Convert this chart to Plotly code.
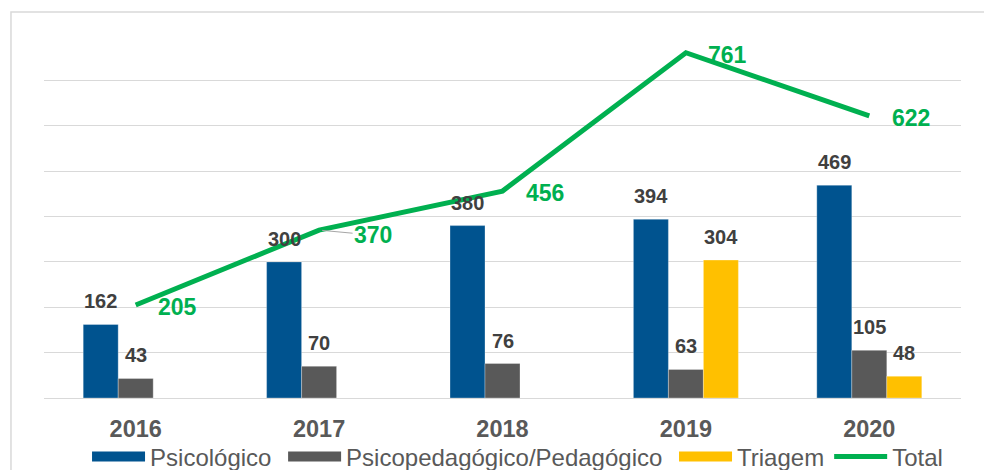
import plotly.graph_objects as go

years = ["2016", "2017", "2018", "2019", "2020"]
psicologico = [162, 300, 380, 394, 469]
psicopedagogico = [43, 70, 76, 63, 105]
triagem = [0, 0, 0, 304, 48]
total = [205, 370, 456, 761, 622]

series_names = ["Psicológico", "Psicopedagógico/Pedagógico", "Triagem"]
series_values = [psicologico, psicopedagogico, triagem]
series_colors = ["#00538F", "#595959", "#FFC000"]
legend_pad = [1, 1, 0]
total_color = "#00B050"

FONT = "Liberation Sans, Arial, sans-serif"
BARGAP = 0.4275
bar_w = (1 - BARGAP) / len(series_values)
NB = "\u00a0"

fig = go.Figure()
for name, vals, col in zip(series_names, series_values, series_colors):
    fig.add_trace(go.Bar(x=years, y=vals, name=name,
                         marker=dict(color=col, line=dict(width=0.5, color="rgba(255,255,255,0.6)")),
                         showlegend=False, hoverinfo="skip"))
fig.add_trace(go.Scatter(x=years, y=total, name="Total", mode="lines",
                         line=dict(color=total_color, width=5), showlegend=False, hoverinfo="skip"))

# legend entries (wide swatches)
for name, col, pad in zip(series_names, series_colors, legend_pad):
    fig.add_trace(go.Scatter(x=[None], y=[None], mode="lines", name=name + NB * pad,
                             line=dict(color=col, width=12)))
fig.add_trace(go.Scatter(x=[None], y=[None], mode="lines", name="Total",
                         line=dict(color=total_color, width=5)))

annotations = []
n = len(series_values)
for k, vals in enumerate(series_values):
    off = (k - (n - 1) / 2) * bar_w
    for i, v in enumerate(vals):
        if v == 0:
            continue
        annotations.append(dict(x=i + off, y=v, xref="x", yref="y", text=f"<b>{v}</b>",
                                showarrow=False, yanchor="bottom", yshift=10,
                                font=dict(family=FONT, size=20, color="#404040")))
for i, v in enumerate(total):
    a = dict(x=i, y=v, xref="x", yref="y", text=f"<b>{v}</b>",
             font=dict(family=FONT, size=23, color=total_color))
    if years[i] == "2017":
        a.update(showarrow=True, ax=54, ay=5, arrowhead=0, arrowwidth=1,
                 arrowcolor="#A6A6A6", standoff=3)
    else:
        a.update(showarrow=False, xshift=42, yshift=-2)
    annotations.append(a)

fig.update_layout(
    width=984, height=470,
    margin=dict(l=44, r=23, t=35, b=72, autoexpand=False),
    paper_bgcolor="white", plot_bgcolor="white",
    barmode="group", bargap=BARGAP, bargroupgap=0,
    font=dict(family=FONT, color="#595959"),
    xaxis=dict(type="category", showgrid=False, showline=False, zeroline=False,
               tickfont=dict(family=FONT, size=23.5, color="#595959", weight="bold"),
               ticks="", ticklabelstandoff=14),
    yaxis=dict(range=[0, 800], dtick=100, showticklabels=False, showgrid=True,
               gridcolor="#D9D9D9", gridwidth=1.3, zeroline=True, zerolinecolor="#D9D9D9",
               zerolinewidth=1.3),
    legend=dict(orientation="h", x=0.5164, xanchor="center", y=-0.1625, yanchor="middle",
                font=dict(family=FONT, size=24, color="#595959"), itemwidth=53,
                bgcolor="rgba(0,0,0,0)"),
    annotations=annotations,
    shapes=[dict(type="rect", xref="paper", yref="paper", x0=-0.036, x1=1.2, y0=-0.5, y1=1.0634,
                 line=dict(color="#D9D9D9", width=1.5), fillcolor="rgba(0,0,0,0)", layer="below")],
)

fig.write_html("out.html", config={"displayModeBar": False},
               post_script="document.body.style.margin='0';document.body.style.overflow='hidden';")
